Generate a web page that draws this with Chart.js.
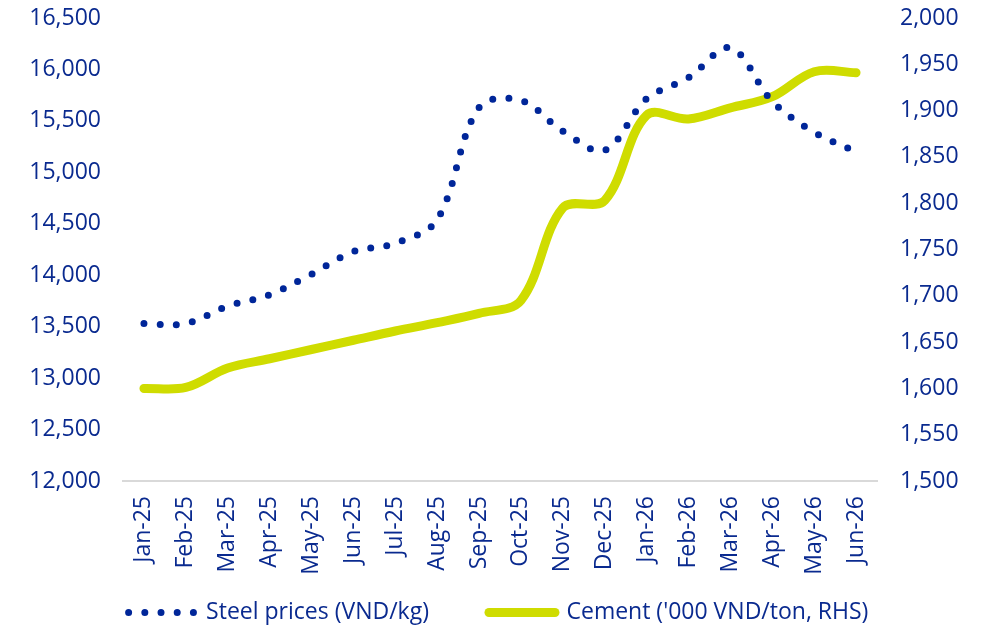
<!DOCTYPE html>
<html>
<head>
<meta charset="utf-8">
<script src="https://cdn.jsdelivr.net/npm/chart.js@4"></script>
<style>
  html, body { margin: 0; padding: 0; background: #ffffff; }
  #wrap { width: 987px; height: 627px; }
</style>
</head>
<body>
<div id="wrap"><canvas id="chart" width="987" height="627"></canvas></div>
<script>
// Monthly price series
const months = ['Jan-25','Feb-25','Mar-25','Apr-25','May-25','Jun-25','Jul-25','Aug-25','Sep-25',
                'Oct-25','Nov-25','Dec-25','Jan-26','Feb-26','Mar-26','Apr-26','May-26','Jun-26'];
const steelPrices = [13530, 13530, 13700, 13810, 14010, 14230, 14310, 14540, 15630,
                     15700, 15400, 15215, 15715, 15920, 16210, 15690, 15390, 15200];
const cementPrices = [1600, 1601, 1622, 1632, 1642, 1652, 1662, 1671, 1681,
                      1695, 1795, 1803, 1895, 1891, 1903, 1915, 1942, 1941];
const steelLabel = 'Steel prices (VND/kg)';
const cementLabel = "Cement ('000 VND/ton, RHS)";
const leftAxis = { min: 12000, max: 16500, step: 500 };
const rightAxis = { min: 1500, max: 2000, step: 50 };

const NAVY = '#0a2a8f';
const DOT = '#002699';
const LIME = '#cfdc00';
const FONT = { family: "'Open Sans', sans-serif", size: 23 };

const steelStyle = { color: DOT, width: 7, dash: [0, 16.2], cap: 'round' };
const cementStyle = { color: LIME, width: 9, dash: [], cap: 'round' };

const fmt = v => Number(v).toLocaleString('en-US');

// The rotated month labels hang below the x-axis box into the legend band;
// widen the axis clip box after layout so they are not cut off.
const monthLabelRoom = {
  id: 'monthLabelRoom',
  afterLayout(chart) {
    const s = chart.scales.x;
    s.bottom = s.top + 110;
  }
};

// Value axes: fixed width, and no extra vertical padding around the end labels.
const fitValueAxis = (width) => (s) => {
  s.width = width;
  s.paddingTop = 0;
  s.paddingBottom = 0;
};

new Chart(document.getElementById('chart'), {
  type: 'line',
  data: {
    labels: months,
    datasets: [
      {
        label: steelLabel,
        data: steelPrices,
        yAxisID: 'y',
        borderColor: steelStyle.color,
        backgroundColor: steelStyle.color,
        borderWidth: steelStyle.width,
        borderDash: steelStyle.dash,
        borderCapStyle: steelStyle.cap,
        pointRadius: 0,
        tension: 0.35,
        fill: false
      },
      {
        label: cementLabel,
        data: cementPrices,
        yAxisID: 'y1',
        borderColor: cementStyle.color,
        backgroundColor: cementStyle.color,
        borderWidth: cementStyle.width,
        borderCapStyle: cementStyle.cap,
        borderJoinStyle: 'round',
        pointRadius: 0,
        tension: 0.35,
        fill: false
      }
    ]
  },
  plugins: [monthLabelRoom],
  options: {
    responsive: false,
    animation: false,
    devicePixelRatio: 1,
    layout: { padding: { top: 18, left: 10, right: 0, bottom: -7 } },
    plugins: {
      tooltip: { enabled: false },
      legend: {
        position: 'bottom',
        labels: {
          font: FONT,
          color: NAVY,
          usePointStyle: true,
          pointStyle: 'line',
          pointStyleWidth: 66,
          padding: 60,
          generateLabels: (chart) => {
            const styles = [steelStyle, cementStyle];
            return chart.data.datasets.map((ds, i) => ({
              text: ds.label,
              fillStyle: styles[i].color,
              strokeStyle: styles[i].color,
              lineWidth: styles[i].width,
              lineDash: styles[i].dash,
              lineCap: styles[i].cap,
              pointStyle: 'line',
              fontColor: NAVY,
              hidden: false,
              datasetIndex: i
            }));
          }
        }
      }
    },
    scales: {
      x: {
        offset: true,
        grid: { display: false, drawTicks: false },
        border: { display: true, color: '#d9d9d9', width: 2 },
        ticks: {
          font: FONT,
          color: NAVY,
          minRotation: 90,
          maxRotation: 90,
          autoSkip: false,
          padding: 15
        },
        afterFit: (s) => { s.height = 60; }
      },
      y: {
        position: 'left',
        min: leftAxis.min,
        max: leftAxis.max,
        grid: { display: false, drawTicks: false },
        border: { display: false },
        ticks: {
          stepSize: leftAxis.step,
          font: FONT,
          color: NAVY,
          padding: 22,
          callback: fmt
        },
        afterFit: fitValueAxis(113)
      },
      y1: {
        position: 'right',
        min: rightAxis.min,
        max: rightAxis.max,
        grid: { display: false, drawTicks: false },
        border: { display: false },
        ticks: {
          stepSize: rightAxis.step,
          font: FONT,
          color: NAVY,
          padding: 23,
          callback: fmt
        },
        afterFit: fitValueAxis(110)
      }
    }
  }
});
</script>
</body>
</html>
